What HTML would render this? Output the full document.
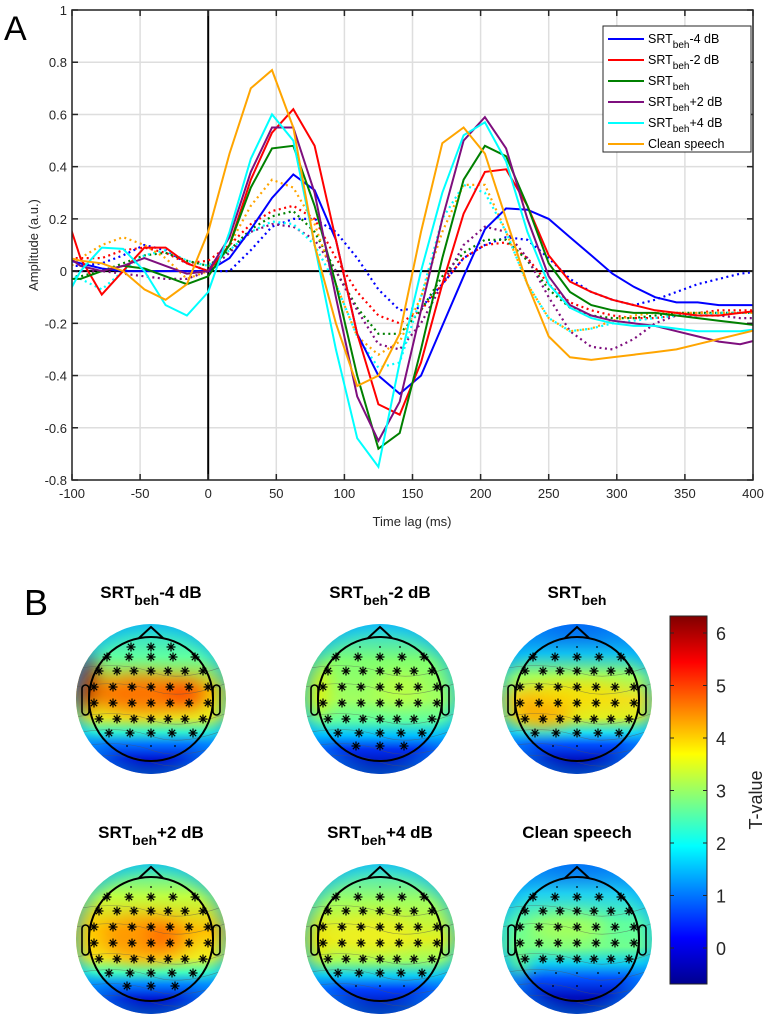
<!DOCTYPE html>
<html><head><meta charset="utf-8"><style>
html,body{margin:0;padding:0;background:#fff;}
svg text{font-family:"Liberation Sans",Arial,sans-serif;}
</style></head><body>
<svg id="root" width="768" height="1021" viewBox="0 0 768 1021" xmlns="http://www.w3.org/2000/svg">
<defs>
<clipPath id="plotclip"><rect x="72" y="10" width="681" height="470"/></clipPath>
<linearGradient id="jet" x1="0" y1="1" x2="0" y2="0">
<stop offset="0" stop-color="#00008f"/><stop offset="0.125" stop-color="#0000ff"/><stop offset="0.375" stop-color="#00ffff"/><stop offset="0.625" stop-color="#ffff00"/><stop offset="0.875" stop-color="#ff0000"/><stop offset="1" stop-color="#800000"/>
</linearGradient>
<filter id="blur" x="-50%" y="-50%" width="200%" height="200%"><feGaussianBlur stdDeviation="9"/></filter>
<radialGradient id="rim" cx="0.5" cy="0.5" r="0.5"><stop offset="0.8" stop-color="#00c0ff" stop-opacity="0"/><stop offset="1" stop-color="#00a0ff" stop-opacity="0.45"/></radialGradient>
</defs>
<text x="4" y="40" font-size="34" fill="#000">A</text>
<text x="24" y="615" font-size="36" fill="#000">B</text>
<g id="chart"></g>
<g id="topos"></g>
<g id="cbar"></g>
</svg>
<script>
const NS='http://www.w3.org/2000/svg';
function mk(tag,attrs,parent){const e=document.createElementNS(NS,tag);for(const k in attrs)e.setAttribute(k,attrs[k]);if(parent)parent.appendChild(e);return e;}

// ---- chart data ----
const times=[-109.375,-93.75,-78.125,-62.5,-46.875,-31.25,-15.625,0,15.625,31.25,46.875,62.5,78.125,93.75,109.375,125,140.625,156.25,171.875,187.5,203.125,218.75,234.375,250,265.625,281.25,296.875,312.5,328.125,343.75,359.375,375,390.625,406.25];
const xTicks=[-100,-50,0,50,100,150,200,250,300,350,400];
const yTicks=[-0.8,-0.6,-0.4,-0.2,0,0.2,0.4,0.6,0.8,1];
const yTickLabels=['-0.8','-0.6','-0.4','-0.2','0','0.2','0.4','0.6','0.8','1'];
const blueSolid=[0.05,0.03,0.01,0,0,0,0,0,0.05,0.16,0.28,0.37,0.31,0.12,-0.24,-0.40,-0.47,-0.40,-0.21,-0.02,0.16,0.24,0.235,0.2,0.13,0.06,-0.01,-0.06,-0.1,-0.12,-0.12,-0.13,-0.13,-0.13];
const redSolid=[0.3,0.05,-0.09,0,0.09,0.09,0.03,0,0.1,0.35,0.53,0.62,0.48,0.12,-0.24,-0.51,-0.55,-0.35,-0.05,0.22,0.38,0.39,0.25,0.06,-0.04,-0.08,-0.11,-0.13,-0.15,-0.16,-0.17,-0.17,-0.16,-0.15];
const greenSolid=[-0.03,-0.03,0,0.02,0.01,-0.02,-0.05,-0.02,0.1,0.32,0.47,0.48,0.25,-0.05,-0.4,-0.68,-0.62,-0.3,0.05,0.35,0.48,0.44,0.25,0.03,-0.08,-0.13,-0.15,-0.16,-0.16,-0.17,-0.18,-0.19,-0.2,-0.21];
const purpleSolid=[0.08,0.02,0,0.02,0.05,0.02,-0.01,0,0.13,0.38,0.55,0.55,0.3,-0.1,-0.48,-0.65,-0.5,-0.15,0.2,0.5,0.59,0.47,0.2,-0.02,-0.13,-0.17,-0.19,-0.2,-0.21,-0.23,-0.25,-0.27,-0.28,-0.26];
const cyanSolid=[-0.15,0,0.09,0.085,0,-0.13,-0.17,-0.08,0.15,0.43,0.6,0.5,0.1,-0.3,-0.64,-0.75,-0.35,0,0.3,0.52,0.57,0.42,0.15,-0.05,-0.14,-0.18,-0.2,-0.21,-0.21,-0.22,-0.23,-0.23,-0.23,-0.22];
const orangeSolid=[0.06,0.04,0.03,0,-0.07,-0.11,-0.05,0.15,0.45,0.70,0.77,0.55,0.1,-0.2,-0.44,-0.4,-0.24,0.15,0.49,0.55,0.45,0.2,-0.05,-0.25,-0.33,-0.34,-0.33,-0.32,-0.31,-0.3,-0.28,-0.26,-0.24,-0.22];
const blueDot=[0.02,0.02,0.03,0.06,0.1,0.08,0.03,0,0,0.08,0.17,0.2,0.2,0.15,0.05,-0.07,-0.15,-0.14,-0.05,0.05,0.1,0.13,0.12,0.05,-0.03,-0.08,-0.11,-0.13,-0.11,-0.08,-0.05,-0.03,-0.01,0];
const redDot=[0.05,0.05,0.05,0.08,0.09,0.07,0.03,0.04,0.1,0.18,0.23,0.25,0.2,0.05,-0.08,-0.17,-0.2,-0.15,-0.05,0.05,0.1,0.11,0.05,-0.05,-0.12,-0.15,-0.17,-0.18,-0.18,-0.17,-0.16,-0.15,-0.15,-0.15];
const greenDot=[-0.02,-0.02,0,0.03,0.06,0.07,0.04,0.02,0.08,0.16,0.21,0.23,0.15,0,-0.14,-0.24,-0.24,-0.15,-0.02,0.07,0.12,0.12,0.04,-0.07,-0.14,-0.17,-0.18,-0.18,-0.17,-0.16,-0.16,-0.16,-0.16,-0.16];
const purpleDot=[0,0,0,-0.01,-0.02,-0.03,-0.03,0,0.07,0.15,0.18,0.17,0.12,0,-0.15,-0.28,-0.3,-0.2,-0.05,0.1,0.17,0.15,0.05,-0.1,-0.23,-0.29,-0.3,-0.26,-0.2,-0.17,-0.17,-0.17,-0.18,-0.18];
const cyanDot=[0,-0.03,-0.07,0,0.06,0.08,0.04,0.02,0.08,0.15,0.19,0.18,0.1,-0.05,-0.25,-0.37,-0.35,-0.1,0.2,0.33,0.3,0.15,-0.05,-0.18,-0.23,-0.22,-0.2,-0.19,-0.18,-0.17,-0.17,-0.16,-0.16,-0.16];
const orangeDot=[-0.02,0.05,0.1,0.13,0.1,0.05,-0.03,0,0.1,0.25,0.35,0.32,0.18,-0.05,-0.25,-0.32,-0.27,-0.1,0.15,0.33,0.33,0.15,-0.05,-0.18,-0.23,-0.22,-0.19,-0.17,-0.16,-0.16,-0.16,-0.16,-0.16,-0.16];
const seriesColors=['#0000ff','#ff0000','#008000','#7e0f7e','#00ffff','#ffa500'];
const solidSeries=[blueSolid,redSolid,greenSolid,purpleSolid,cyanSolid,orangeSolid];
const dotSeries=[blueDot,redDot,greenDot,purpleDot,cyanDot,orangeDot];

const X0=72,X1=753,Y0=10,Y1=480;
const xS=t=>X0+(t+100)/500*(X1-X0);
const yS=v=>Y1-(v+0.8)/1.8*(Y1-Y0);
const chart=document.getElementById('chart');
const grid=mk('g',{},chart);


xTicks.forEach(t=>{mk('line',{x1:xS(t),x2:xS(t),y1:Y0,y2:Y1,stroke:'#dedede','stroke-width':1.5},grid);});
yTicks.forEach(v=>{mk('line',{x1:X0,x2:X1,y1:yS(v),y2:yS(v),stroke:'#dedede','stroke-width':1.5},grid);});
const zx=mk('line',{x1:xS(0),x2:xS(0),y1:Y0,y2:Y1,stroke:'#000','stroke-width':2},chart);


const zy=mk('line',{x1:X0,x2:X1,y1:yS(0),y2:yS(0),stroke:'#000','stroke-width':2},chart);


const lines=mk('g',{'clip-path':'url(#plotclip)'},chart);
function pts(arr){return arr.map((v,i)=>xS(times[i]).toFixed(1)+','+yS(v).toFixed(1)).join(' ');}
dotSeries.forEach((arr,i)=>{
  const p=mk('polyline',{points:pts(arr),fill:'none',stroke:seriesColors[i],'stroke-width':2.2,'stroke-dasharray':'2 3.5','stroke-linecap':'butt'},lines);
  
  
});
solidSeries.forEach((arr,i)=>{
  const p=mk('polyline',{points:pts(arr),fill:'none',stroke:seriesColors[i],'stroke-width':2,'stroke-linejoin':'miter'},lines);
  
  
});
const fr=mk('rect',{x:X0,y:Y0,width:X1-X0,height:Y1-Y0,fill:'none',stroke:'#262626','stroke-width':1.5},chart);


xTicks.forEach(t=>{
  mk('line',{x1:xS(t),x2:xS(t),y1:Y1,y2:Y1-6,stroke:'#262626','stroke-width':1.5},chart);
  mk('line',{x1:xS(t),x2:xS(t),y1:Y0,y2:Y0+6,stroke:'#262626','stroke-width':1.5},chart);
  const tx=mk('text',{x:xS(t),y:Y1+18,'font-size':13,'text-anchor':'middle',fill:'#262626'},chart);
  tx.textContent=String(t);
  
  
});
yTicks.forEach((v,i)=>{
  mk('line',{x1:X0,x2:X0+6,y1:yS(v),y2:yS(v),stroke:'#262626','stroke-width':1.5},chart);
  mk('line',{x1:X1,x2:X1-6,y1:yS(v),y2:yS(v),stroke:'#262626','stroke-width':1.5},chart);
  const tx=mk('text',{x:X0-5,y:yS(v)+5,'font-size':13,'text-anchor':'end',fill:'#262626'},chart);
  tx.textContent=yTickLabels[i];
  
  
});
const xt=mk('text',{x:412,y:526,'font-size':13,'text-anchor':'middle',fill:'#262626'},chart);
xt.textContent='Time lag (ms)';


const yt=mk('text',{x:0,y:0,'font-size':13,'text-anchor':'middle',fill:'#262626',transform:'translate(38,245) rotate(-90)'},chart);
yt.textContent='Amplitude (a.u.)';


const lg=mk('g',{},chart);


mk('rect',{x:603,y:26,width:148,height:126,fill:'#fff',stroke:'#262626','stroke-width':1},lg);
const legLab=[['SRT','beh','-4 dB'],['SRT','beh','-2 dB'],['SRT','beh',''],['SRT','beh','+2 dB'],['SRT','beh','+4 dB'],['Clean speech','','']];
legLab.forEach((l,i)=>{
  const y=39+i*21;
  const e=mk('g',{},lg);
  
  
  mk('line',{x1:608,x2:644,y1:y,y2:y,stroke:seriesColors[i],'stroke-width':2},e);
  const t=mk('text',{x:648,y:y+4,'font-size':12.5,fill:'#000'},e);
  t.appendChild(document.createTextNode(l[0]));
  if(l[1]){const s=mk('tspan',{dy:5,'font-size':10},t);s.textContent=l[1];
    if(l[2]){const s2=mk('tspan',{dy:-5,'font-size':12.5},t);s2.textContent=l[2];}}
});

// ---- topoplots ----
const topoTitles=[['SRT','beh','-4 dB'],['SRT','beh','-2 dB'],['SRT','beh',''],['SRT','beh','+2 dB'],['SRT','beh','+4 dB'],['Clean speech','','']];
const topoCenters=[[151,699],[380,699],[577,699],[151,939],[380,939],[577,939]];
const topoBase=[
 [['0','#20d0e0'],['0.22','#60ffa0'],['0.45','#f0d000'],['0.62','#e8f020'],['0.72','#30f0d0'],['0.8','#0070ff'],['0.9','#0010d0'],['1','#000090']],
 [['0','#20d0f0'],['0.25','#80ff70'],['0.5','#a0ff60'],['0.64','#60ffa0'],['0.74','#00c0ff'],['0.83','#0030f0'],['1','#000090']],
 [['0','#0040f0'],['0.2','#10c0f0'],['0.35','#a0ff60'],['0.5','#f0e020'],['0.62','#e0f020'],['0.72','#20e0f0'],['0.8','#0050ff'],['0.9','#0010c0'],['1','#000090']],
 [['0','#30e8d0'],['0.22','#c0ff40'],['0.45','#ffc000'],['0.62','#f0f020'],['0.72','#40ffc0'],['0.8','#0080ff'],['0.9','#0010d0'],['1','#000090']],
 [['0','#30e0e0'],['0.25','#a0ff60'],['0.5','#e0f020'],['0.64','#a0ff60'],['0.74','#10d0f0'],['0.83','#0040ff'],['1','#000090']],
 [['0','#0050f0'],['0.2','#20d0f0'],['0.4','#60ffa0'],['0.55','#70ff90'],['0.66','#10d0f0'],['0.76','#0050ff'],['0.88','#0010c0'],['1','#000090']]
];
const topoBlobs=[
 [[-8,-5,50,18,'#ff6000'],[-68,-18,14,30,'#a00000'],[35,-5,20,14,'#ff4000']],
 [[-65,-10,14,28,'#e8f000'],[20,-10,25,15,'#c0ff40']],
 [[-35,10,30,18,'#ffa000'],[0,-5,45,12,'#f8e000']],
 [[-5,0,45,22,'#ff9000'],[10,-3,15,10,'#ff5000'],[-65,-5,14,25,'#ffd000']],
 [[-10,-5,45,18,'#f0f020'],[-65,0,12,25,'#f0e000']],
 [[-10,-10,40,15,'#b0ff50'],[-60,20,12,18,'#80ff70']]
];
const eRows=[[-52,[-20,0,20]],[-42,[-44,-22,0,22,44]],[-28,[-52,-34,-17,0,17,34,52]],[-12,[-57,-38,-19,0,19,38,57]],[4,[-57,-38,-19,0,19,38,57]],[20,[-52,-34,-17,0,17,34,52]],[34,[-42,-21,0,21,42]],[47,[-24,0,24]]];
const topoStarRows=[6,7,6,7,6,5];
const topos=document.getElementById('topos');
topoCenters.forEach((c,k)=>{
  const [cx,cy]=c;
  const g=mk('g',{},topos);
  
  
  const defs=mk('defs',{},g);
  const gr=mk('linearGradient',{id:'tg'+k,x1:0,y1:0,x2:0,y2:1},defs);
  topoBase[k].forEach(s=>mk('stop',{offset:s[0],'stop-color':s[1]},gr));
  const cp=mk('clipPath',{id:'tc'+k},defs);
  mk('circle',{cx:cx,cy:cy,r:75},cp);
  const inner=mk('g',{'clip-path':'url(#tc'+k+')'},g);
  mk('rect',{x:cx-76,y:cy-76,width:152,height:152,fill:'url(#tg'+k+')'},inner);
  const bl=mk('g',{filter:'url(#blur)'},inner);
  topoBlobs[k].forEach(b=>mk('ellipse',{cx:cx+b[0],cy:cy+b[1],rx:b[2],ry:b[3],fill:b[4],opacity:0.85},bl));
  mk('circle',{cx:cx,cy:cy,r:75,fill:'url(#rim)'},inner);
  [-30,-12,18,34,48,60].forEach(d=>mk('path',{d:`M${cx-76},${cy+d} Q${cx-30},${cy+d-8} ${cx},${cy+d+3} T${cx+76},${cy+d-4}`,fill:'none',stroke:'#555','stroke-width':0.6,opacity:0.6},inner));
  mk('circle',{cx:cx,cy:cy,r:62,fill:'none',stroke:'#000','stroke-width':2},g);
  mk('path',{d:`M${cx-12},${cy-61} L${cx},${cy-72} L${cx+12},${cy-61}`,fill:'none',stroke:'#000','stroke-width':2},g);
  mk('rect',{x:cx-69,y:cy-14,width:7,height:30,rx:3.5,fill:'none',stroke:'#000','stroke-width':1.6},g);
  mk('rect',{x:cx+62,y:cy-14,width:7,height:30,rx:3.5,fill:'none',stroke:'#000','stroke-width':1.6},g);
  eRows.forEach((r,ri)=>{
    r[1].forEach(dx=>{
      const ex=cx+dx, ey=cy+r[0];
      const star=(ri>=1 && ri<=topoStarRows[k]) || (k===0 && ri===0);
      if(star){
        const s=mk('g',{stroke:'#000','stroke-width':1.2},g);
        for(let a=0;a<4;a++){const an=a*Math.PI/4;mk('line',{x1:ex-4.5*Math.cos(an),y1:ey-4.5*Math.sin(an),x2:ex+4.5*Math.cos(an),y2:ey+4.5*Math.sin(an)},s);}
      } else mk('circle',{cx:ex,cy:ey,r:0.9,fill:'#000'},g);
    });
  });
  const t=mk('text',{x:cx,y:cy-101,'font-size':17,'font-weight':'bold','text-anchor':'middle',fill:'#000'},g);
  
  
  const L=topoTitles[k];
  t.appendChild(document.createTextNode(L[0]));
  if(L[1]){const s=mk('tspan',{dy:7,'font-size':14},t);s.textContent=L[1];
    if(L[2]){const s2=mk('tspan',{dy:-7,'font-size':17},t);s2.textContent=L[2];}}
});

// ---- colorbar ----
const cbTicks=[0,1,2,3,4,5,6];
const cb=document.getElementById('cbar');
const cbY=v=>948-v*52.5;
const cr=mk('rect',{x:670,y:616,width:37,height:368,fill:'url(#jet)',stroke:'#262626','stroke-width':1},cb);


cbTicks.forEach(v=>{
  mk('line',{x1:670,x2:674,y1:cbY(v),y2:cbY(v),stroke:'#262626','stroke-width':1},cb);
  mk('line',{x1:707,x2:703,y1:cbY(v),y2:cbY(v),stroke:'#262626','stroke-width':1},cb);
  const t=mk('text',{x:716,y:cbY(v)+7,'font-size':18,fill:'#262626'},cb);
  t.textContent=String(v);
  
  
});
const ct=mk('text',{x:0,y:0,'font-size':18,'text-anchor':'middle',fill:'#262626',transform:'translate(762,800) rotate(-90)'},cb);
ct.textContent='T-value';


</script>
</body></html>
